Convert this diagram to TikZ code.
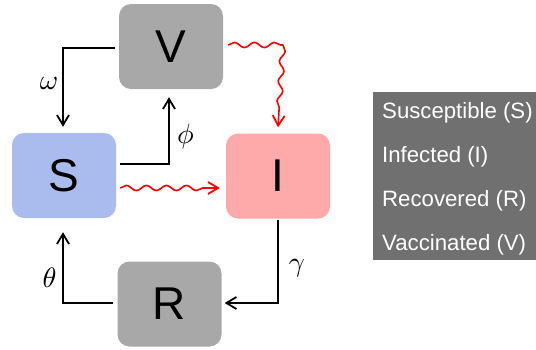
\documentclass[tikz,border=0pt]{standalone}
\usepackage{fontspec}
\usepackage{graphicx}
\setsansfont{Liberation Sans}
\usetikzlibrary{arrows.meta,decorations.pathmorphing}
\definecolor{boxgray}{RGB}{168,168,168}
\definecolor{sblue}{RGB}{170,187,238}
\definecolor{ipink}{RGB}{255,170,170}
\definecolor{leggray}{RGB}{112,112,112}
\begin{document}
\begin{tikzpicture}[x=1pt,y=-1pt,
  box/.style={rounded corners=12pt, minimum width=104pt, minimum height=85pt, inner sep=0pt,
    font=\sffamily\fontsize{46}{46}\selectfont},
  tipstyle/.style={-{Straight Barb[length=10pt,width=12pt,line width=1.8pt]}},
  flow/.style={line width=1.8pt, tipstyle},
  wavebase/.style={red, line width=1.6pt, decorate,
    decoration={snake, amplitude=2.6pt, segment length=20pt, post length=10pt}},
  wave/.style={wavebase, tipstyle},
  lbl/.style={inner sep=0pt},
  legtext/.style={anchor=base west, text=white, inner sep=0pt,
    font=\sffamily\fontsize{22.2}{26}\selectfont}]
\useasboundingbox (0,0) rectangle (536,349);
% boxes
\node[box, fill=boxgray] (V) at (171,46.5) {V};
\node[box, fill=sblue] (S) at (64,175.5) {S};
\node[box, fill=ipink] (I) at (278,176) {I};
\node[box, fill=boxgray] (R) at (169.5,304) {R};
% black flows
\draw[flow] ([shift={(-4,1.5)}]V.west) -| ([shift={(-1,-6)}]S.north);
\draw[flow] ([shift={(4,-11.5)}]S.east) -| ([shift={(-2,8)}]V.south);
\draw[flow] ([shift={(-4,-1)}]R.west) -| ([shift={(-1,14)}]S.south);
\draw[flow] ([shift={(0,1)}]I.south) |- ([shift={(3,-1)}]R.east);
% red wavy flows
\draw[wave] ([shift={(4,12.5)}]S.east) -- ([shift={(-6,12)}]I.west);
\coordinate (vc) at ([shift={(5,-1.5)}]V.east -| I.north);
\draw[wavebase, decoration={post length=0pt}] ([shift={(5,-1.5)}]V.east) -- (vc);
\draw[wave] (vc) -- ([shift={(0,-6)}]I.north);
% labels
\node[lbl] (lw) at (49,83) {\scalebox{2.8}{$\omega$}};
\node[lbl] (lp) at (185.5,136.5) {\scalebox{2.8}{$\phi$}};
\node[lbl] (lg) at (297,268) {\scalebox{2.8}{$\gamma$}};
\node[lbl] (lt) at (49.5,278) {\scalebox{2.8}{$\theta$}};
% legend
\node[fill=leggray, minimum width=163pt, minimum height=168pt, inner sep=0pt] (L) at (454.5,176) {};
\node[legtext] (l1) at (382,118) {Susceptible (S)};
\node[legtext] (l2) at (382,162.5) {Infected (I)};
\node[legtext] (l3) at (382,206) {Recovered (R)};
\node[legtext] (l4) at (382,250) {Vaccinated (V)};
\end{tikzpicture}
\end{document}
